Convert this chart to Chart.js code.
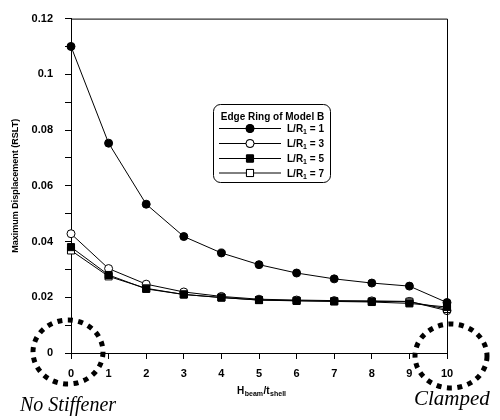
<!DOCTYPE html>
<html>
<head>
<meta charset="utf-8">
<script src="https://cdn.jsdelivr.net/npm/chart.js@4.4.1/dist/chart.umd.min.js"></script>
<style>
  html, body { margin: 0; padding: 0; background: #fff; }
  #wrap { width: 500px; height: 420px; }
</style>
</head>
<body>
<div id="wrap"><canvas id="chart" width="500" height="420"></canvas></div>
<script>
const xValues = [0, 1, 2, 3, 4, 5, 6, 7, 8, 9, 10];
const ratio1 = [0.110, 0.0753, 0.0534, 0.0418, 0.0359, 0.0317, 0.0287, 0.0266, 0.0251, 0.0240, 0.0181];
const ratio3 = [0.0428, 0.0303, 0.0247, 0.0219, 0.0203, 0.0193, 0.0190, 0.0188, 0.0187, 0.0185, 0.0152];
const ratio5 = [0.0380, 0.0280, 0.0230, 0.0210, 0.0199, 0.0190, 0.0187, 0.0185, 0.0183, 0.0178, 0.0165];
const ratio7 = [0.0368, 0.0275, 0.0232, 0.0210, 0.0199, 0.0190, 0.0188, 0.0186, 0.0185, 0.0184, 0.0158];
const seriesNames = ["1", "3", "5", "7"];
const yTickLabels = ["0", "0.02", "0.04", "0.06", "0.08", "0.1", "0.12"];
const xTickLabels = ["0", "1", "2", "3", "4", "5", "6", "7", "8", "9", "10"];

const sans = "'Liberation Sans', Arial, sans-serif";
const serif = "'Liberation Serif', 'Times New Roman', serif";

function toPoints(values) {
  return xValues.map((x, i) => ({ x, y: values[i] }));
}

function makeSet(name, values, style, filled, order) {
  return {
    label: name,
    data: toPoints(values),
    borderColor: "#000",
    borderWidth: 1,
    backgroundColor: filled ? "#000" : "#fff",
    pointBorderColor: "#000",
    pointBorderWidth: 1,
    pointStyle: style,
    pointRadius: style === "rect" ? 5 : 4,
    tension: 0,
    clip: false,
    order,
  };
}

const extras = {
  id: "extras",
  afterDraw(chart) {
    const { ctx, chartArea: a, scales } = chart;
    ctx.save();
    ctx.strokeStyle = "#000";
    ctx.lineWidth = 1;
    ctx.beginPath();
    ctx.moveTo(a.left, a.top + 0.5);
    ctx.lineTo(a.right + 0.5, a.top + 0.5);
    ctx.lineTo(a.right + 0.5, a.bottom);
    ctx.stroke();

    // x axis title with subscripts
    ctx.fillStyle = "#000";
    ctx.textBaseline = "alphabetic";
    let tx = 237;
    const ty = 394;
    const parts = [["H", 10, 0], ["beam", 7, 2], ["/t", 10, 0], ["shell", 7, 2]];
    for (const [t, size, dy] of parts) {
      ctx.font = "bold " + size + "px " + sans;
      ctx.fillText(t, tx, ty + dy);
      tx += ctx.measureText(t).width + 0.5;
    }

    // legend
    const lx = 213, ly = 104, lw = 117, lh = 78;
    ctx.beginPath();
    ctx.roundRect(lx + 0.5, ly + 0.5, lw, lh, 7);
    ctx.fillStyle = "#fff";
    ctx.fill();
    ctx.stroke();
    ctx.fillStyle = "#000";
    ctx.font = "bold 10px " + sans;
    ctx.textAlign = "center";
    ctx.fillText("Edge Ring of Model B", lx + lw / 2 + 1, ly + 16);
    ctx.textAlign = "left";
    const rows = [128, 143, 158, 172.5];
    chart.data.datasets.forEach((ds, i) => {
      const ry = rows[i];
      ctx.beginPath();
      ctx.moveTo(219, ry + 0.5);
      ctx.lineTo(281, ry + 0.5);
      ctx.strokeStyle = "#000";
      ctx.lineWidth = 1;
      ctx.stroke();
      Chart.helpers.drawPoint(ctx, {
        pointStyle: ds.pointStyle,
        radius: ds.pointRadius,
        borderWidth: 1,
      }, 250, ry + 0.5);
      ctx.fillStyle = ds.backgroundColor;
      ctx.fill();
      ctx.stroke();
      ctx.fillStyle = "#000";
      let px = 287;
      ctx.font = "bold 10px " + sans;
      ctx.fillText("L/R", px, ry + 4);
      px += ctx.measureText("L/R").width;
      ctx.font = "bold 7px " + sans;
      ctx.fillText("1", px, ry + 6);
      px += ctx.measureText("1").width;
      ctx.font = "bold 10px " + sans;
      ctx.fillText(" = " + ds.label, px, ry + 4);
    });

    // dotted circles around the two ends of the axis
    const ox = scales.x.getPixelForValue(xValues[0]);
    const ex = scales.x.getPixelForValue(xValues[xValues.length - 1]);
    const oy = scales.y.getPixelForValue(0);
    ctx.lineWidth = 5;
    ctx.setLineDash([5, 5.5]);
    ctx.lineCap = "butt";
    ctx.beginPath();
    ctx.ellipse(ox - 3, oy - 1, 35, 32, 0, 0, Math.PI * 2);
    ctx.stroke();
    ctx.beginPath();
    ctx.ellipse(ex + 4, oy + 3, 36, 32, 0, 0, Math.PI * 2);
    ctx.stroke();
    ctx.setLineDash([]);

    ctx.font = "italic 20px " + serif;
    ctx.fillText("No Stiffener", 20, 411);
    ctx.font = "italic 21px " + serif;
    ctx.fillText("Clamped", 414, 405);
    ctx.restore();
  },
};

new Chart(document.getElementById("chart"), {
  type: "line",
  data: {
    datasets: [
      makeSet(seriesNames[0], ratio1, "circle", true, 1),
      makeSet(seriesNames[1], ratio3, "circle", false, 3),
      makeSet(seriesNames[2], ratio5, "rect", true, 0),
      makeSet(seriesNames[3], ratio7, "rect", false, 2),
    ],
  },
  options: {
    responsive: false,
    animation: false,
    layout: { padding: { top: 11, right: 53, bottom: 0, left: 0 } },
    plugins: { legend: { display: false }, tooltip: { enabled: false } },
    scales: {
      x: {
        type: "linear",
        min: 0,
        max: 10,
        afterFit: (s) => { s.height = 67; },
        border: { display: true, color: "#000", width: 1 },
        grid: { drawOnChartArea: false, drawTicks: true, tickLength: 6, color: "#000" },
        ticks: {
          stepSize: 1,
          padding: 8,
          color: "#000",
          font: { family: sans, size: 11, weight: "bold" },
          callback: (v, i) => xTickLabels[i],
        },
      },
      y: {
        min: 0,
        max: 0.12,
        afterFit: (s) => { s.width = 71; },
        border: { display: true, color: "#000", width: 1 },
        grid: { drawOnChartArea: false, drawTicks: true, tickLength: 6, color: "#000" },
        title: {
          display: true,
          text: "Maximum Displacement (RSLT)",
          color: "#000",
          padding: { top: 10, bottom: 0 },
          font: { family: sans, size: 9, weight: "bold" },
        },
        ticks: {
          stepSize: 0.01,
          padding: 12,
          color: "#000",
          font: { family: sans, size: 11, weight: "bold" },
          callback: (v, i) => (i % 2 === 0 ? yTickLabels[i / 2] : ""),
        },
      },
    },
  },
  plugins: [extras],
});
</script>
</body>
</html>
